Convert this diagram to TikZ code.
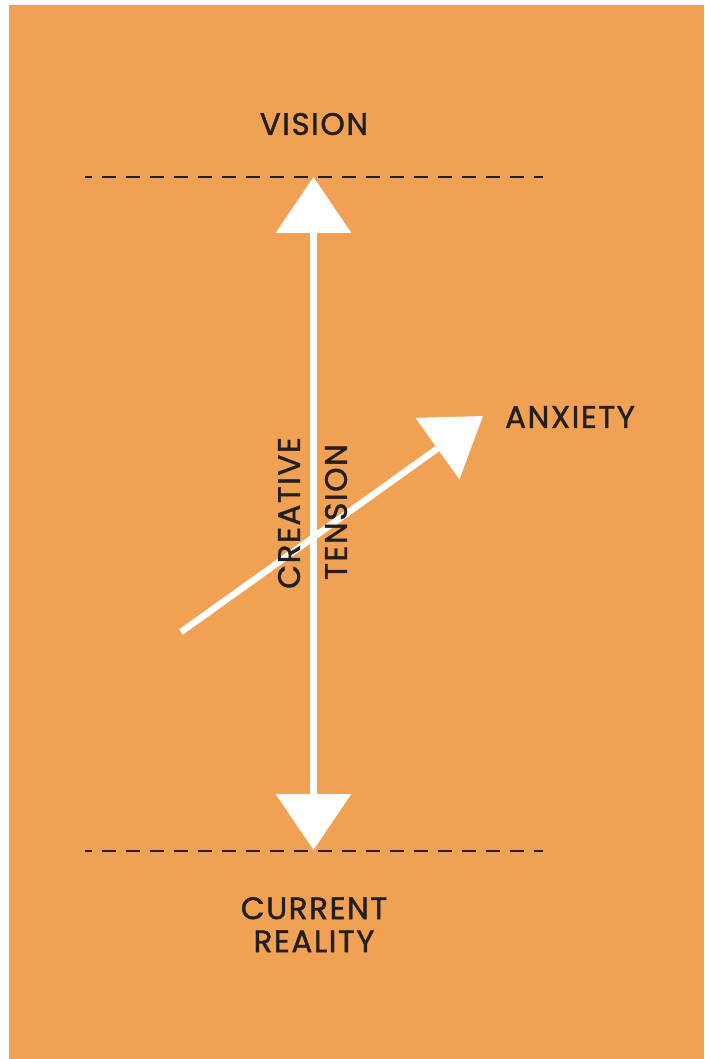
\documentclass[tikz,border=0pt]{standalone}
\usepackage{fontspec}
\setmainfont{Poppins}[FakeBold=1.4, LetterSpace=5]
\usetikzlibrary{arrows.meta}
\definecolor{bgorange}{HTML}{F1A153}
\definecolor{inkgray}{HTML}{231F20}
\tikzset{
  lbl/.style={font=\fontsize{31}{33}\selectfont, text=inkgray, inner sep=0pt},
  whitearrow/.style={draw=white, line width=6.5pt,
    -{Triangle[length=56pt, width=74pt, fill=white]}},
  dashline/.style={draw=inkgray, line width=2.6pt, dash pattern=on 14pt off 10pt, dash phase=7pt}
}
\begin{document}
\begin{tikzpicture}[x=1pt, y=-1pt]
\useasboundingbox (0,0) rectangle (704,1059);
\fill[white] (0,0) rectangle (704,1059);
\fill[bgorange] (9,5) rectangle (704,1059);
% dashed lines
\coordinate (d1a) at (85,177); \coordinate (d1b) at (543,177);
\coordinate (d2a) at (85,851); \coordinate (d2b) at (543,851);
\draw[dashline] (d1a) -- (d1b);
\draw[dashline] (d2a) -- (d2b);
% vertical double arrow
\coordinate (vtop) at (313.5,177);
\coordinate (vbot) at (313.5,850);
\coordinate (vmid) at (313.5,513);
\draw[whitearrow] (vmid) -- (vtop);
\draw[whitearrow] (vmid) -- (vbot);
% diagonal arrow
\coordinate (atail) at (181,632);
\coordinate (ahead) at (483,416);
\draw[whitearrow] (atail) -- (ahead);
% labels
\node[lbl] (vision) at (314,124) {VISION};
\node[lbl] (anxiety) at (570,417) {ANXIETY};
\node[lbl, align=center, anchor=north] (current) at (314,897) {CURRENT\\REALITY};
\node[lbl, rotate=90] (creative) at (289,513) {CREATIVE};
\node[lbl, rotate=90] (tension) at (336,512) {TENSION};
\end{tikzpicture}
\end{document}
